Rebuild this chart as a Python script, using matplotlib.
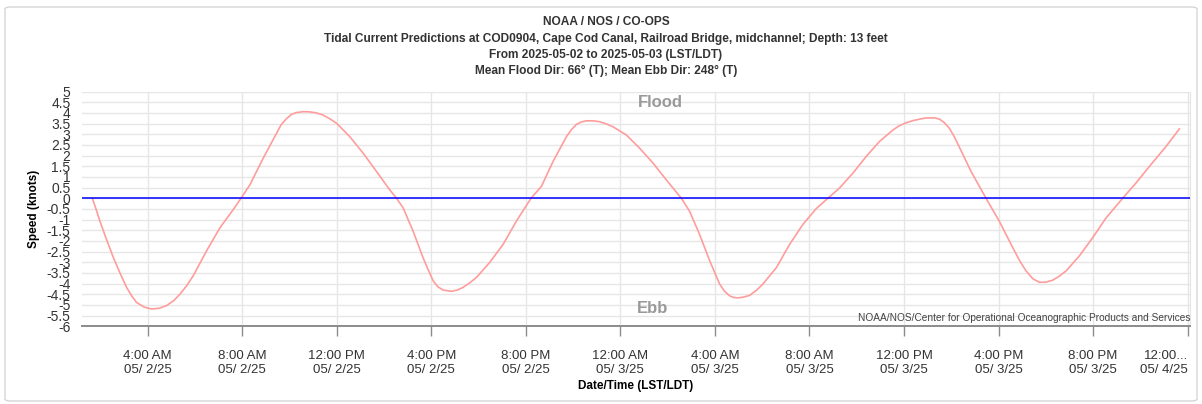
import matplotlib
matplotlib.use("Agg")
import matplotlib.pyplot as plt
from matplotlib.patches import FancyBboxPatch
import pandas as pd

plt.rcParams['font.family'] = ['Liberation Sans', 'DejaVu Sans']

# hours after 2025-05-02 00:00 (LST/LDT) and predicted speed (knots)
hours = [1.66, 1.80, 1.98, 2.25, 2.55, 2.85, 3.11, 3.33, 3.53, 3.85, 4.17, 4.50, 4.80, 5.10,
         5.37, 5.65, 5.93, 6.49, 7.06, 7.62, 7.95,
         8.33, 8.89, 9.45, 9.65, 9.88, 10.08, 10.30, 10.60, 10.86, 11.15, 11.42, 11.70,
         12.00, 12.55, 13.12, 13.68, 14.24, 14.53, 14.81, 15.23, 15.65, 15.87, 16.08,
         16.28, 16.50, 16.85, 17.10, 17.34, 17.62, 17.91, 18.47, 19.04, 19.60, 20.22,
         20.66, 21.15, 21.72, 21.93, 22.14, 22.35, 22.56, 22.85, 23.12, 23.40, 23.69,
         24.25, 24.82, 25.38, 25.94, 26.58, 26.93, 27.35, 27.78, 28.20, 28.40, 28.62,
         28.80, 28.97, 29.22, 29.47, 29.75, 30.03, 30.60, 31.16, 31.72, 32.29, 32.78,
         33.27, 33.84, 34.40, 34.96, 35.53, 35.80, 36.09, 36.38, 36.66, 36.90, 37.15,
         37.33, 37.50, 37.70, 37.92, 38.13, 38.34, 38.84, 39.47, 40.03, 40.60, 40.88,
         41.16, 41.45, 41.73, 42.00, 42.29, 42.57, 42.86, 43.42, 43.98, 44.55, 45.25,
         45.81, 46.38, 47.08, 47.65]
speed = [0.0, -0.45, -1.07, -1.90, -2.78, -3.55, -4.18, -4.58, -4.88, -5.10, -5.19, -5.15, -5.03, -4.80,
         -4.49, -4.10, -3.63, -2.47, -1.38, -0.53, 0.0,
         0.64, 1.88, 3.04, 3.45, 3.74, 3.93, 4.02, 4.06, 4.05, 4.00, 3.90, 3.73,
         3.51, 2.89, 2.11, 1.26, 0.40, 0.0, -0.45, -1.54, -2.78, -3.35, -3.87,
         -4.15, -4.30, -4.36, -4.30, -4.18, -3.97, -3.71, -3.01, -2.16, -1.07, 0.0,
         0.56, 1.72, 2.89, 3.22, 3.46, 3.58, 3.63, 3.63, 3.59, 3.49, 3.35,
         2.97, 2.34, 1.65, 0.87, 0.0, -0.61, -1.69, -2.93, -4.02, -4.35, -4.57,
         -4.65, -4.67, -4.63, -4.55, -4.32, -4.02, -3.25, -2.16, -1.23, -0.48, 0.0,
         0.48, 1.18, 1.96, 2.66, 3.20, 3.40, 3.54, 3.64, 3.71, 3.76, 3.77,
         3.76, 3.71, 3.55, 3.28, 2.88, 2.40, 1.25, 0.0, -1.07, -2.31, -2.90,
         -3.40, -3.77, -3.94, -3.93, -3.84, -3.65, -3.40, -2.70, -1.85, -0.92, 0.0,
         0.71, 1.49, 2.42, 3.25]

tick_hours = [4, 8, 12, 16, 20, 24, 28, 32, 36, 40, 44, 48]
tick_labels = ['4:00 AM\n05/ 2/25', '8:00 AM\n05/ 2/25', '12:00 PM\n05/ 2/25',
               '4:00 PM\n05/ 2/25', '8:00 PM\n05/ 2/25', '12:00 AM\n05/ 3/25',
               '4:00 AM\n05/ 3/25', '8:00 AM\n05/ 3/25', '12:00 PM\n05/ 3/25',
               '4:00 PM\n05/ 3/25', '8:00 PM\n05/ 3/25', '12:00...\n05/ 4/25']
y_ticks = [-6, -5.5, -5, -4.5, -4, -3.5, -3, -2.5, -2, -1.5, -1, -0.5, 0,
           0.5, 1, 1.5, 2, 2.5, 3, 3.5, 4, 4.5, 5]

title_lines = ['NOAA / NOS / CO-OPS',
               'Tidal Current Predictions at COD0904, Cape Cod Canal, Railroad Bridge, midchannel; Depth: 13 feet',
               'From 2025-05-02 to 2025-05-03 (LST/LDT)',
               'Mean Flood Dir: 66\u00b0 (T); Mean Ebb Dir: 248\u00b0 (T)']

start = pd.Timestamp('2025-05-02 00:00')
t = start + pd.to_timedelta(hours, unit='h')
ticks = start + pd.to_timedelta(tick_hours, unit='h')

W, H = 1202, 404
fig = plt.figure(figsize=(W / 100, H / 100), dpi=100)
ax = fig.add_axes([81.7 / W, 1 - 326.3 / H, (1190 - 81.7) / W, (326.3 - 91.6) / H])

ax.plot(t, speed, color='#ff9c9c', lw=1.2, zorder=3, solid_joinstyle='round')
ax.axhline(0, color='#0000ff', lw=1.1, zorder=4)

ax.set_xlim(start + pd.Timedelta(hours=1.21), start + pd.Timedelta(hours=48.1))
ax.set_ylim(-6, 5)
ax.set_yticks(y_ticks)
ax.set_yticklabels([f'{v:g}' for v in y_ticks])
ax.set_xticks(ticks)
ax.set_xticklabels(tick_labels)
lbls = ax.get_xticklabels()
lbls[-1].set_horizontalalignment('right')

ax.grid(True, color='#e6e6e6', lw=1.0)
ax.set_axisbelow(True)
for s in ['top', 'left']:
    ax.spines[s].set_visible(False)
ax.spines['right'].set_color('#e6e6e6')
ax.spines['bottom'].set_color('#8c8c8c')
ax.spines['bottom'].set_linewidth(1.4)
ax.tick_params(axis='y', length=0, pad=8, labelsize=10, labelcolor='#333333')
ax.tick_params(axis='x', length=7, width=1, color='#8c8c8c', pad=10,
               labelsize=9.5, labelcolor='#333333')

ax.set_ylabel('Speed (knots)', fontsize=8.5, fontweight='bold', labelpad=5)
ax.set_xlabel('Date/Time (LST/LDT)', fontsize=8.5, fontweight='bold', labelpad=3)

ax.text(0.522, 0.955, 'Flood', transform=ax.transAxes, ha='center', va='center',
        fontsize=12, fontweight='bold', color='#999999')
ax.text(0.515, 0.075, 'Ebb', transform=ax.transAxes, ha='center', va='center',
        fontsize=12, fontweight='bold', color='#999999')
ax.text(1.0, 0.012, 'NOAA/NOS/Center for Operational Oceanographic Products and Services',
        transform=ax.transAxes, ha='right', va='bottom', fontsize=7.3, color='#444444')

for line, y in zip(title_lines, [22, 39, 55, 71]):
    fig.text(606 / W, 1 - y / H, line, ha='center', va='center', fontsize=8.6,
             fontweight='bold', color='#333333')

fig.patches.append(FancyBboxPatch((5 / W, 3 / H), 1192 / W, 394 / H,
                                  boxstyle='round,pad=0,rounding_size=0.005',
                                  transform=fig.transFigure, fill=False,
                                  edgecolor='#d6d6d6', lw=1.0))

fig.savefig('out.png', dpi=100)
